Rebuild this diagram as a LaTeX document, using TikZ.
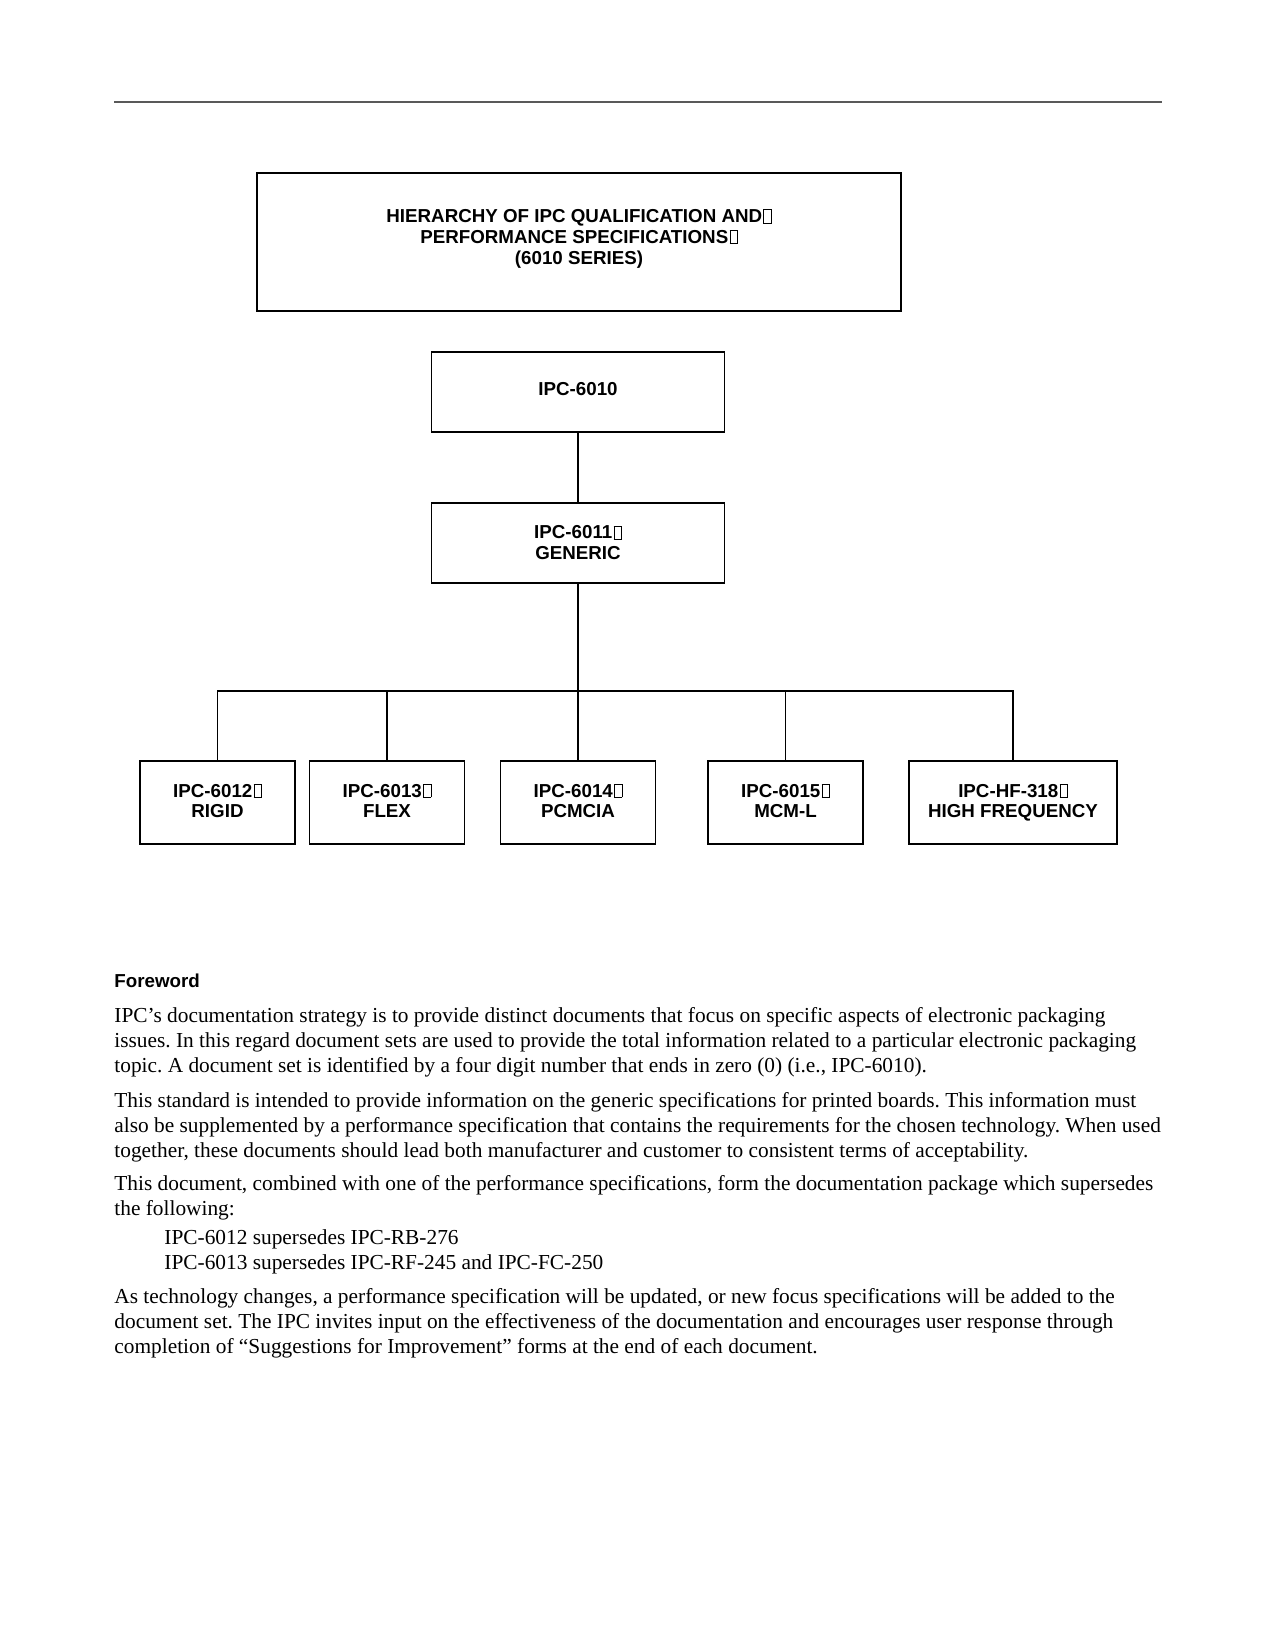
\documentclass[tikz,border=0pt]{standalone}
\usepackage{fontspec}
\setmainfont{Liberation Serif}
\setsansfont{Liberation Sans}
\usetikzlibrary{positioning}
\frenchspacing
\newcommand\glyphbox{\kern0.6pt{\fboxsep=0pt\fboxrule=0.35pt\fbox{\rule{0pt}{0.66em}\hspace{0.36em}}}}
\begin{document}
\begin{tikzpicture}[x=0.48pt, y=-0.48pt,
        spec/.style={draw, rectangle, line width=0.9pt, align=center, inner sep=0pt,
            minimum width=74.4pt, minimum height=39.8pt, text depth=1.5pt,
            font=\sffamily\bfseries\fontsize{9}{10}\selectfont},
        link/.style={line width=0.9pt},
        para/.style={anchor=base west, inner sep=0pt, align=left,
            font=\fontsize{10.25}{11.8}\selectfont} ]
    \useasboundingbox (0,0) rectangle (1275,1650);
    \draw[line width=0.6pt, black!65] (114,102) -- (1162,102);
    % chart
    \node[spec, minimum width=309.1pt, minimum height=66.2pt, text depth=5pt] (title) at (579,242)
        {HIERARCHY OF IPC QUALIFICATION AND\glyphbox\\PERFORMANCE SPECIFICATIONS\glyphbox\\(6010 SERIES)};
    \node[spec, minimum width=140.6pt, minimum height=38.4pt, text depth=3pt] (ipc6010) at (578,392) {IPC-6010};
    \node[spec, minimum width=140.6pt, minimum height=38.4pt, text depth=0pt, below=33pt of ipc6010] (ipc6011) {IPC-6011\glyphbox\\GENERIC};
    \node[spec] (rigid) at (217.5,802.5) {IPC-6012\glyphbox\\RIGID};
    \node[spec] (flex) at (387,802.5) {IPC-6013\glyphbox\\FLEX};
    \node[spec] (pcmcia) at (578,802.5) {IPC-6014\glyphbox\\PCMCIA};
    \node[spec] (mcml) at (785.5,802.5) {IPC-6015\glyphbox\\MCM-L};
    \node[spec, minimum width=99.8pt] (hf) at (1013,802.5) {IPC-HF-318\glyphbox\\HIGH FREQUENCY};
    \coordinate (bus) at (578,691);
    \draw[link] (ipc6010) -- (ipc6011);
    \draw[link] (ipc6011.south) -- (bus);
    \draw[link] (rigid.north) |- (bus) -| (hf.north);
    \foreach \n in {flex,pcmcia,mcml}
        \draw[link] (\n.north) -- (\n.north |- bus);
    % foreword (paragraphs placed at the baseline of their last line)
    \node[anchor=base west, inner sep=0pt, font=\sffamily\bfseries\fontsize{9}{10}\selectfont] (foreword) at (114,987) {Foreword};
    \node[para] (p1) at (114,1072) {IPC’s documentation strategy is to provide distinct documents that focus on specific aspects of electronic packaging\\
        issues. In this regard document sets are used to provide the total information related to a particular electronic packaging\\
        topic. A document set is identified by a four digit number that ends in zero (0) (i.e., IPC-6010).};
    \node[para] (p2) at (114,1157) {This standard is intended to provide information on the generic specifications for printed boards. This information must\\
        also be supplemented by a performance specification that contains the requirements for the chosen technology. When used\\
        together, these documents should lead both manufacturer and customer to consistent terms of acceptability.};
    \node[para] (p3) at (114,1215) {This document, combined with one of the performance specifications, form the documentation package which supersedes\\
        the following:};
    \node[para] (list) at (164,1269) {IPC-6012 supersedes IPC-RB-276\\
        IPC-6013 supersedes IPC-RF-245 and IPC-FC-250};
    \node[para] (p4) at (114,1353) {As technology changes, a performance specification will be updated, or new focus specifications will be added to the\\
        document set. The IPC invites input on the effectiveness of the documentation and encourages user response through\\
        completion of ``Suggestions for Improvement'' forms at the end of each document.};
\end{tikzpicture}
\end{document}
